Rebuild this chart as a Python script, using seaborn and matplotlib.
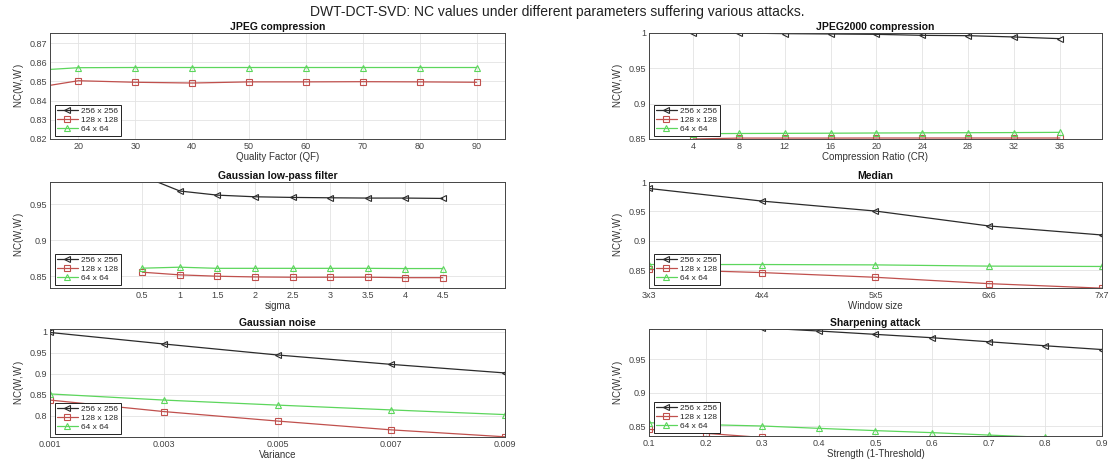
import numpy as np
import pandas as pd
import matplotlib
matplotlib.use("Agg")
import matplotlib.pyplot as plt
import seaborn as sns

sns.set_theme(style="whitegrid")
plt.rcParams['font.family'] = ['Liberation Sans', 'DejaVu Sans']
plt.rcParams['mathtext.fontset'] = 'custom'
plt.rcParams['mathtext.rm'] = 'Liberation Sans'

series_names = ["256 x 256", "128 x 128", "64 x 64"]

# JPEG compression
jpeg_x = [10, 20, 30, 40, 50, 60, 70, 80, 90]
jpeg_256 = [1.0, 1.0, 1.0, 1.0, 1.0, 1.0, 1.0, 1.0, 1.0]
jpeg_128 = [0.8456, 0.8504, 0.8496, 0.8492, 0.8498, 0.8498, 0.8499, 0.8498, 0.8496]
jpeg_64 = [0.8554, 0.8572, 0.8573, 0.8573, 0.8573, 0.8573, 0.8573, 0.8573, 0.8573]

# JPEG2000 compression
j2k_x = [4, 8, 12, 16, 20, 24, 28, 32, 36]
j2k_256 = [1.0, 1.0, 0.9991, 0.9986, 0.9981, 0.9967, 0.9962, 0.9944, 0.992]
j2k_128 = [0.8500, 0.8513, 0.8513, 0.8513, 0.8514, 0.8514, 0.8514, 0.8514, 0.8514]
j2k_64 = [0.8575, 0.8578, 0.8580, 0.8582, 0.8585, 0.8587, 0.8589, 0.8591, 0.8594]

# Gaussian low-pass filter
glp_x = [0.5, 1.0, 1.5, 2.0, 2.5, 3.0, 3.5, 4.0, 4.5]
glp_256 = [0.9897, 0.9687, 0.9630, 0.9607, 0.9598, 0.9593, 0.9589, 0.9589, 0.9584]
glp_128 = [0.8556, 0.8519, 0.8500, 0.8490, 0.8486, 0.8486, 0.8486, 0.8480, 0.8480]
glp_64 = [0.8612, 0.8626, 0.8610, 0.8610, 0.8610, 0.8610, 0.8610, 0.8607, 0.8607]

# Median
med_labels = ["3x3", "4x4", "5x5", "6x6", "7x7"]
med_256 = [0.989, 0.9675, 0.9506, 0.9253, 0.9099]
med_128 = [0.8517, 0.846, 0.838, 0.8272, 0.8195]
med_64 = [0.8597, 0.8597, 0.8591, 0.857, 0.8564]

# Gaussian noise
gn_x = [0.001, 0.003, 0.005, 0.007, 0.009]
gn_256 = [0.998, 0.9706, 0.9444, 0.922, 0.9016]
gn_128 = [0.837, 0.8096, 0.787, 0.766, 0.7495]
gn_64 = [0.8516, 0.837, 0.825, 0.8135, 0.8024]

# Sharpening attack
sh_x = [0.1, 0.2, 0.3, 0.4, 0.5, 0.6, 0.7, 0.8, 0.9]
sh_256 = [1.0, 0.999, 0.9965, 0.992, 0.987, 0.982, 0.976, 0.970, 0.9644]
sh_128 = [0.8455, 0.8396, 0.8334, 0.827, 0.821, 0.815, 0.809, 0.803, 0.797]
sh_64 = [0.8554, 0.8525, 0.8505, 0.847, 0.8436, 0.8406, 0.837, 0.8335, 0.830]

colors = ["#2b2b2b", "#c0504d", "#5cd65c"]
markers = ["<", "s", "^"]

W, H = 1114, 463
fig = plt.figure(figsize=(W / 100, H / 100), dpi=100)

def make_ax(x0, y0, x1, y1):
    return fig.add_axes([x0 / W, 1 - y1 / H, (x1 - x0) / W, (y1 - y0) / H])

panels = [
    dict(box=(50, 33, 505, 139), title="JPEG compression", xlabel="Quality Factor (QF)",
         x=jpeg_x, ys=[jpeg_256, jpeg_128, jpeg_64], xlim=(15, 95), ylim=(0.82, 0.8753),
         xticks=[20, 30, 40, 50, 60, 70, 80, 90], xticklabels=None,
         yticks=[0.82, 0.83, 0.84, 0.85, 0.86, 0.87], yfmt="{:.2f}"),
    dict(box=(649, 33, 1102, 139), title="JPEG2000 compression", xlabel="Compression Ratio (CR)",
         x=j2k_x, ys=[j2k_256, j2k_128, j2k_64], xlim=(0.15, 39.7), ylim=(0.85, 1.0),
         xticks=j2k_x, xticklabels=None,
         yticks=[0.85, 0.9, 0.95, 1.0], yfmt="{:g}"),
    dict(box=(50, 182, 505, 288), title="Gaussian low-pass filter", xlabel="sigma",
         x=glp_x, ys=[glp_256, glp_128, glp_64], xlim=(-0.73, 5.33), ylim=(0.8336, 0.9813),
         xticks=glp_x, xticklabels=None,
         yticks=[0.85, 0.9, 0.95], yfmt="{:g}"),
    dict(box=(649, 182, 1102, 288), title="Median", xlabel="Window size",
         x=list(range(1, len(med_labels) + 1)), ys=[med_256, med_128, med_64], xlim=(1, 5), ylim=(0.8198, 1.0),
         xticks=list(range(1, len(med_labels) + 1)), xticklabels=med_labels,
         yticks=[0.85, 0.9, 0.95, 1.0], yfmt="{:g}"),
    dict(box=(50, 329, 505, 437), title="Gaussian noise", xlabel="Variance",
         x=gn_x, ys=[gn_256, gn_128, gn_64], xlim=(0.001, 0.009), ylim=(0.749, 1.0063),
         xticks=gn_x, xticklabels=None,
         yticks=[0.8, 0.85, 0.9, 0.95, 1.0], yfmt="{:g}"),
    dict(box=(649, 329, 1102, 436), title="Sharpening attack", xlabel="Strength (1-Threshold)",
         x=sh_x, ys=[sh_256, sh_128, sh_64], xlim=(0.1, 0.9), ylim=(0.8356, 0.995),
         xticks=sh_x, xticklabels=None,
         yticks=[0.85, 0.9, 0.95], yfmt="{:g}"),
]

for p in panels:
    ax = make_ax(*p["box"])
    for name, ys, c, m in zip(series_names, p["ys"], colors, markers):
        df = pd.DataFrame({"x": p["x"], "y": ys})
        sns.lineplot(data=df, x="x", y="y", ax=ax, color=c, marker=m, markersize=4.5,
                     markerfacecolor="none", markeredgecolor=c, markeredgewidth=0.8,
                     linewidth=0.9, label=name, sort=False, clip_on=True)
    ax.set_xlim(*p["xlim"])
    ax.set_ylim(*p["ylim"])
    ax.set_xticks(p["xticks"])
    if p["xticklabels"] is not None:
        ax.set_xticklabels(p["xticklabels"])
    else:
        ax.set_xticklabels([("{:g}".format(v)) for v in p["xticks"]])
    ax.set_yticks(p["yticks"])
    ax.set_yticklabels([p["yfmt"].format(v) for v in p["yticks"]])
    ax.set_title(p["title"], fontsize=7.5, fontweight="bold", pad=2, color="#111111")
    ax.set_xlabel(p["xlabel"], fontsize=7, color="#333333", labelpad=1)
    ax.set_ylabel(r"NC(W,W$^{\prime}$)", fontsize=7, color="#333333", labelpad=2)
    ax.tick_params(axis="both", labelsize=6.5, colors="#444444", length=2, direction="in", pad=2)
    ax.grid(True, color="#e3e3e3", linewidth=0.6)
    ax.set_facecolor("white")
    for s in ax.spines.values():
        s.set_color("#444444")
        s.set_linewidth(0.7)
    leg = ax.legend(loc="lower left", fontsize=6, frameon=True, fancybox=False,
                    borderpad=0.3, labelspacing=0.15, handlelength=2.5, handletextpad=0.4,
                    bbox_to_anchor=(0.01, 0.03), borderaxespad=0)
    leg.get_frame().set_edgecolor("#222222")
    leg.get_frame().set_linewidth(0.7)
    leg.get_frame().set_alpha(1)

fig.text(0.5, 1 - 12 / H, "DWT-DCT-SVD: NC values under different parameters suffering various attacks.",
         ha="center", va="center", fontsize=10, color="#222222")

fig.savefig("out.png", dpi=100, facecolor="white")
